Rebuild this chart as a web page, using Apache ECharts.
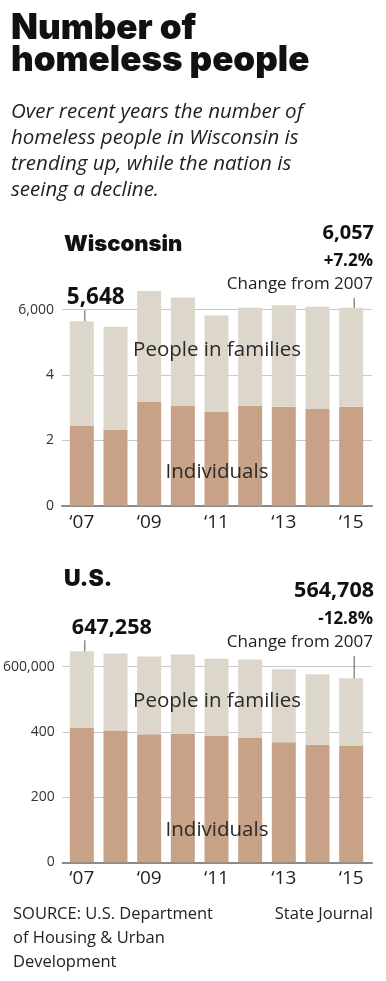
<!DOCTYPE html>
<html><head><meta charset="utf-8">
<script src="https://cdn.jsdelivr.net/npm/echarts@6/dist/echarts.min.js"></script>
<style>html,body{margin:0;padding:0;background:#fff}#c{width:386px;height:981px}</style>
</head><body><div id="c"></div>
<script>
// ---- data ----
const years = ['‘07','‘08','‘09','‘10','‘11','‘12','‘13','‘14','‘15'];
const wiIndividuals = [2440, 2320, 3190, 3070, 2880, 3060, 3030, 2960, 3030];
const wiFamilies    = [3208, 3160, 3380, 3300, 2940, 3000, 3110, 3130, 3027];
const usIndividuals = [412200, 404000, 392900, 394900, 387800, 381600, 368400, 360200, 358200];
const usFamilies    = [235058, 236800, 238700, 242900, 236700, 240800, 223400, 216300, 206508];
const wiTicks = [0, 2000, 4000, 6000];
const wiTickLabels = ['0', '2', '4', '6,000'];
const usTicks = [0, 200000, 400000, 600000];
const usTickLabels = ['0', '200', '400', '600,000'];
const wiFirstLabel = '5,648', wiLastLabel = '6,057', wiChange = '+7.2%';
const usFirstLabel = '647,258', usLastLabel = '564,708', usChange = '-12.8%';

const C_IND = '#c8a287', C_FAM = '#ddd7cb', INK = '#1e1e1e';
const BODY = "'Open Sans','Noto Sans',sans-serif";
const HEAVY = "Inter,'Liberation Sans',sans-serif";

const chart = echarts.init(document.getElementById('c'), null, {renderer: 'canvas'});

function tickLabeler(ticks, labels) {
  return v => { const i = ticks.indexOf(v); return i >= 0 ? labels[i] : ''; };
}

const panels = [
  {top: 309.7, height: 196, ind: wiIndividuals, fam: wiFamilies, ticks: wiTicks, labels: wiTickLabels},
  {top: 666.7, height: 195.6, ind: usIndividuals, fam: usFamilies, ticks: usTicks, labels: usTickLabels}
];

const grid = [], xAxis = [], yAxis = [], series = [];
panels.forEach((p, k) => {
  const maxV = p.ticks[p.ticks.length - 1];
  const iv = p.ticks[1] - p.ticks[0];
  // background grid: gridlines, y labels, baseline
  grid.push({left: 62, width: 310, top: p.top, height: p.height});
  xAxis.push({gridIndex: 2*k, type: 'value', min: 0, max: 1, axisLine: {show: true, onZero: false, lineStyle: {color: '#8a8a8a', width: 2}},
    axisTick: {show: false}, axisLabel: {show: false}, splitLine: {show: false}});
  yAxis.push({gridIndex: 2*k, type: 'value', min: 0, max: maxV, interval: iv,
    axisLine: {show: false}, axisTick: {show: false},
    axisLabel: {margin: 8, color: '#333', fontFamily: BODY, fontSize: 14, formatter: tickLabeler(p.ticks, p.labels)},
    splitLine: {lineStyle: {color: '#c8c8c8', width: 1}}});
  // bar grid
  grid.push({left: 65, width: 303, top: p.top, height: p.height});
  xAxis.push({gridIndex: 2*k+1, type: 'category', data: years, boundaryGap: true,
    axisLine: {show: false}, axisTick: {show: false},
    axisLabel: {interval: 1, margin: 7, color: INK, fontFamily: BODY, fontSize: 19}});
  yAxis.push({gridIndex: 2*k+1, type: 'value', min: 0, max: maxV, interval: iv, show: false});
  series.push({type: 'bar', xAxisIndex: 2*k+1, yAxisIndex: 2*k+1, stack: 's'+k, data: p.ind, barWidth: 24,
    itemStyle: {color: C_IND}, clip: false, silent: true, z: 3});
  series.push({type: 'bar', xAxisIndex: 2*k+1, yAxisIndex: 2*k+1, stack: 's'+k, data: p.fam, barWidth: 24,
    itemStyle: {color: C_FAM}, clip: false, silent: true, z: 3});
});

chart.setOption({animation: false, grid, xAxis, yAxis, series});

function T(text, x, baseline, size, opts) {
  opts = opts || {};
  return {type: 'text', z: 10, style: {text, x, y: baseline - size * 0.33,
    font: (opts.style || 'normal') + ' ' + (opts.weight || 'normal') + ' ' + size + 'px ' + (opts.family || BODY),
    fill: opts.color || INK, textAlign: opts.align || 'left', textVerticalAlign: 'middle'}};
}
function L(x, y1, y2) {
  return {type: 'line', z: 10, shape: {x1: x, y1: y1, x2: x, y2: y2}, style: {stroke: '#555', lineWidth: 1}};
}

const g = [];
g.push(T('Number of', 11, 40, 35, {weight: 900, family: HEAVY, color: '#111'}));
g.push(T('homeless people', 11, 72, 35, {weight: 900, family: HEAVY, color: '#111'}));
['Over recent years the number of', 'homeless people in Wisconsin is', 'trending up, while the nation is', 'seeing a decline.']
  .forEach((s, i) => g.push(T(s, 11, 119 + i * 26, 20.5, {style: 'italic', color: '#222'})));
g.push(T('Wisconsin', 64, 252, 22, {weight: 900, family: HEAVY, color: '#111'}));
g.push(T('U.S.', 64, 587, 23, {weight: 900, family: HEAVY, color: '#111'}));

// annotations tied to bar tops
function annot(k, ind, fam, firstLbl, lastLbl, chg, yBase, firstSize, firstDx, lastSize) {
  const n = ind.length - 1;
  const p0 = chart.convertToPixel({xAxisIndex: 2*k+1, yAxisIndex: 2*k+1}, [0, ind[0] + fam[0]]);
  const pn = chart.convertToPixel({xAxisIndex: 2*k+1, yAxisIndex: 2*k+1}, [n, ind[n] + fam[n]]);
  g.push(L(p0[0] + 3, p0[1] - 11, p0[1]));
  g.push(T(firstLbl, p0[0] + firstDx, p0[1] - 16, firstSize, {weight: 'bold', color: '#111'}));
  g.push(L(pn[0] + 3, yBase + 8, pn[1]));
  g.push(T('Change from 2007', 373, yBase, 17, {align: 'right', color: '#222'}));
  g.push(T(chg, 373, yBase - 23, 17, {align: 'right', weight: 'bold', color: '#111'}));
  g.push(T(lastLbl, 374, yBase - 50, lastSize, {align: 'right', weight: 'bold', color: '#111'}));
}
annot(0, wiIndividuals, wiFamilies, wiFirstLabel, wiLastLabel, wiChange, 290, 22.5, -15, 20);
annot(1, usIndividuals, usFamilies, usFirstLabel, usLastLabel, usChange, 648, 21.5, -10, 21.5);

g.push(T('People in families', 217, 357, 20.5, {align: 'center', color: '#2a2a2a'}));
g.push(T('Individuals', 217, 479, 20.5, {align: 'center', color: '#2a2a2a'}));
g.push(T('People in families', 217, 708, 20.5, {align: 'center', color: '#2a2a2a'}));
g.push(T('Individuals', 217, 837, 20.5, {align: 'center', color: '#2a2a2a'}));

g.push(T('SOURCE: U.S. Department', 13, 920, 16.5, {color: '#222'}));
g.push(T('of Housing & Urban', 13, 944, 16.5, {color: '#222'}));
g.push(T('Development', 13, 968, 16.5, {color: '#222'}));
g.push(T('State Journal', 373, 920, 16.5, {align: 'right', color: '#222'}));

chart.setOption({graphic: g});
</script></body></html>
